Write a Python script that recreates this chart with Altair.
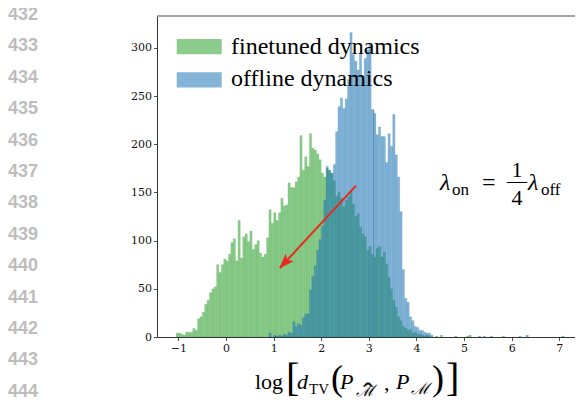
import altair as alt
import pandas as pd

# ---------------- data ----------------
BIN_START = -1.1
BIN_WIDTH = 0.05

finetuned_counts = [0, 4, 4, 3, 2, 5, 5, 5, 9, 7,
                    19, 21, 26, 34, 38, 46, 50, 52, 75, 67,
                    75, 81, 79, 86, 98, 102, 79, 121, 82, 104,
                    107, 99, 110, 91, 96, 100, 87, 83, 86, 103,
                    132, 118, 129, 121, 129, 144, 136, 137, 160, 155,
                    155, 161, 166, 209, 173, 187, 177, 211, 196, 194,
                    190, 184, 170, 166, 175, 173, 170, 162, 146, 150,
                    144, 135, 142, 146, 152, 138, 125, 128, 114, 107,
                    104, 90, 94, 86, 83, 92, 94, 83, 88, 76,
                    62, 50, 38, 31, 21, 17, 11, 9, 7, 8,
                    4, 5, 3, 3, 2, 1, 2, 1]
finetuned_first_bin = 0
finetuned_tail_bins = [110, 112, 118, 123, 124, 138, 145]
finetuned_tail_counts = [1, 2, 1, 1, 2, 1, 1]

offline_counts = [4, 0, 2, 1, 2, 1, 3, 2, 5, 4,
                  16, 11, 14, 12, 20, 24, 24, 49, 63, 74,
                  90, 101, 115, 142, 177, 173, 170, 179, 213, 239,
                  248, 237, 247, 267, 316, 293, 286, 277, 295, 270,
                  289, 298, 305, 236, 232, 210, 218, 208, 208, 181,
                  211, 198, 231, 189, 166, 130, 70, 40, 36, 21,
                  17, 11, 10, 7, 7, 5, 4, 4, 2]
offline_first_bin = 40
offline_tail_bins = [128, 130, 133, 148, 163]
offline_tail_counts = [1, 1, 1, 2, 1]

edge_line_x = [3.1]
edge_line_top = [236]

arrow_from = [2.73, 157]
arrow_to = [1.13, 71.6]

x_ticks = [-1, 0, 1, 2, 3, 4, 5, 6, 7]
y_ticks = [0, 50, 100, 150, 200, 250, 300]
x_domain = [-1.45, 7.33]
y_domain = [0, 333]

legend_labels = ["finetuned dynamics", "offline dynamics"]
legend_colors = ["#2ca02c", "#1f77b4"]
line_numbers = list(range(432, 445))

# ---------------- layout constants ----------------
W, H = 418, 321
FILL_OPACITY = 0.55


def series_rows(name, first, counts, tail_bins, tail_counts):
    rows = []
    bins = [first + k for k in range(len(counts))] + list(tail_bins)
    vals = list(counts) + list(tail_counts)
    for b, c in zip(bins, vals):
        if c > 0:
            x0 = BIN_START + BIN_WIDTH * b
            rows.append({"series": name, "x0": x0, "x1": x0 + BIN_WIDTH, "count": c})
    return pd.DataFrame(rows)


green_df = series_rows("finetuned", finetuned_first_bin, finetuned_counts,
                       finetuned_tail_bins, finetuned_tail_counts)
blue_df = series_rows("offline", offline_first_bin, offline_counts,
                      offline_tail_bins, offline_tail_counts)

x_scale = alt.Scale(domain=x_domain, nice=False, zero=False)
y_scale = alt.Scale(domain=y_domain, nice=False)

axis_common = dict(title=None, grid=False, labelFont="DejaVu Serif", labelFontSize=11,
                   labelColor="#111111", tickColor="#222222", domainColor="#333333",
                   tickSize=3.5, labelPadding=2, domainWidth=1, tickWidth=0.8)


def bars(df, color):
    return alt.Chart(df).mark_rect(
        fill=color, fillOpacity=FILL_OPACITY, stroke=color, strokeOpacity=0.25,
        strokeWidth=0.5
    ).encode(
        x=alt.X("x0:Q", scale=x_scale, axis=alt.Axis(values=x_ticks, format="d", **axis_common)),
        x2="x1:Q",
        y=alt.Y("count:Q", scale=y_scale,
                axis=alt.Axis(values=y_ticks, format="d", **axis_common)),
        y2=alt.datum(0),
    )


green_layer = bars(green_df, legend_colors[0])
blue_layer = bars(blue_df, legend_colors[1])

edge_df = pd.DataFrame({"x": edge_line_x, "top": edge_line_top})
edge_layer = alt.Chart(edge_df).mark_rule(color="#3d7db0", strokeWidth=0.9, opacity=0.8).encode(
    x="x:Q", y=alt.Y("top:Q"), y2=alt.datum(0)
)

top_spine = alt.Chart(pd.DataFrame({"a": [0]})).mark_rule(color="#8a8a8a", strokeWidth=1.5).encode(
    x=alt.value(0), x2=alt.value(W), y=alt.value(0)
)

arrow_df = pd.DataFrame({"x": [arrow_from[0]], "y": [arrow_from[1]],
                         "x2": [arrow_to[0]], "y2": [arrow_to[1]]})
arrow_line = alt.Chart(arrow_df).mark_rule(color="#e8291e", strokeWidth=2).encode(
    x="x:Q", y="y:Q", x2="x2:Q", y2="y2:Q"
)
arrow_head = alt.Chart(arrow_df).mark_point(
    shape="M0,0L0.5,1.4L0,1.05L-0.5,1.4Z", filled=True, fill="#e8291e", stroke="#e8291e",
    strokeWidth=0.5, opacity=1, size=400, angle=223
).encode(x="x2:Q", y="y2:Q")

# ---------- manual legend ----------
leg_df = pd.DataFrame({"label": legend_labels, "color": legend_colors, "row": [0, 1]})
legend_patch = alt.Chart(leg_df).transform_calculate(
    y0="23 + 33.3 * datum.row", y1="38.3 + 33.3 * datum.row"
).mark_rect(fillOpacity=FILL_OPACITY).encode(
    x=alt.value(19.7), x2=alt.value(64.7),
    y=alt.Y("y0:Q", scale=None), y2="y1:Q",
    fill=alt.Color("color:N", scale=None),
)
legend_text = alt.Chart(leg_df).transform_calculate(
    ty="37.5 + 32.5 * datum.row"
).mark_text(align="left", baseline="alphabetic", font="Liberation Serif", fontSize=24,
            color="#000000").encode(
    x=alt.value(74), y=alt.Y("ty:Q", scale=None), text="label:N"
)

# ---------- line numbers of the page ----------
ln_df = pd.DataFrame({"n": line_numbers})
line_num_layer = alt.Chart(ln_df).transform_calculate(
    ty="-1 + 31.4 * (datum.n - 432)", label="'' + datum.n"
).mark_text(align="left", baseline="middle", font="Liberation Sans", fontWeight="bold",
            fontSize=18, color="#bdbdbd").encode(
    x=alt.value(-149), y=alt.Y("ty:Q", scale=None), text="label:N"
)

# ---------- math text pieces (plot-relative pixel positions) ----------
upright = pd.DataFrame([
    {"text": "on", "px": 295, "py": 179, "size": 17},
    {"text": "=", "px": 325, "py": 174, "size": 24},
    {"text": "off", "px": 384, "py": 179, "size": 17},
    {"text": "log", "px": 98, "py": 373, "size": 22},
    {"text": "[", "px": 129, "py": 375, "size": 40},
    {"text": "TV", "px": 152, "py": 378, "size": 15},
    {"text": "(", "px": 174, "py": 374, "size": 36},
    {"text": ",", "px": 227, "py": 374, "size": 22},
    {"text": ")", "px": 275, "py": 374, "size": 36},
    {"text": "]", "px": 289, "py": 375, "size": 40},
])
centered = pd.DataFrame([
    {"text": "1", "px": 360, "py": 161, "size": 22},
    {"text": "\u2014", "px": 360, "py": 172, "size": 20},
    {"text": "4", "px": 360, "py": 189, "size": 22},
    {"text": "\u02c6", "px": 211, "py": 387, "size": 30},
])
italic = pd.DataFrame([
    {"text": "\u03bb", "px": 283, "py": 174, "size": 24},
    {"text": "\u03bb", "px": 371, "py": 174, "size": 24},
    {"text": "d", "px": 140, "py": 373, "size": 22},
    {"text": "P", "px": 183, "py": 373, "size": 22},
    {"text": "P", "px": 239, "py": 373, "size": 22},
    {"text": "\u2133", "px": 199, "py": 380, "size": 16},
    {"text": "\u2133", "px": 254, "py": 378, "size": 16},
])


def text_layer(df, align="left", style="normal"):
    return alt.Chart(df).mark_text(
        align=align, baseline="alphabetic", font="Liberation Serif, DejaVu Serif",
        fontStyle=style, color="#000000"
    ).encode(
        x=alt.X("px:Q", scale=None), y=alt.Y("py:Q", scale=None),
        text="text:N", size=alt.Size("size:Q", scale=None, legend=None),
    )


chart = alt.layer(
    green_layer, blue_layer, edge_layer, top_spine, arrow_line, arrow_head,
    legend_patch, legend_text, line_num_layer,
    text_layer(upright), text_layer(centered, align="center"),
    text_layer(italic, style="italic"),
).properties(
    width=W, height=H,
    padding={"left": 149, "top": 8, "right": 0, "bottom": 61},
    autosize=alt.AutoSizeParams(type="none"),
    background="white",
).configure_view(stroke=None)

chart.save("out.html", embed_options={"renderer": "svg", "actions": False})
